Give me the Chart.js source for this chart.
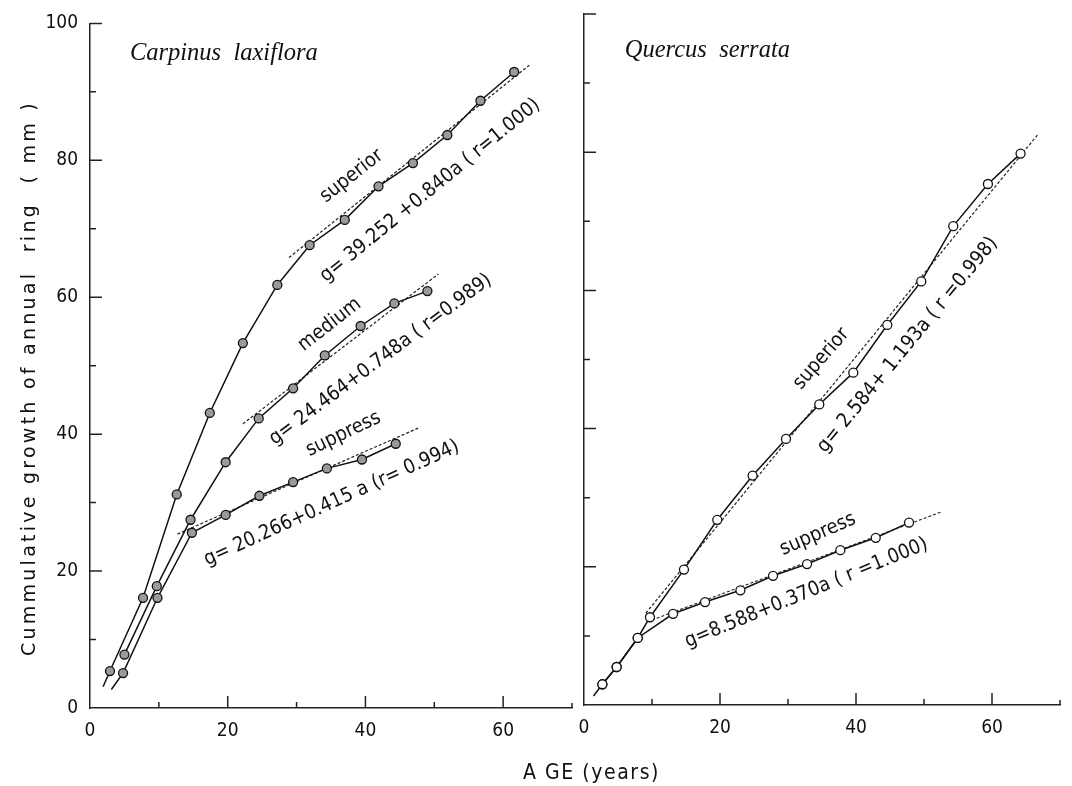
<!DOCTYPE html>
<html>
<head>
<meta charset="utf-8">
<script src="https://cdn.jsdelivr.net/npm/chart.js@4.4.0/dist/chart.umd.min.js"></script>
<style>
html, body { margin: 0; padding: 0; background: #fff; }
#wrap { position: relative; width: 1072px; height: 786px; }
#wrap canvas { position: absolute; left: 0; top: 0; }
</style>
</head>
<body>
<div id="wrap">
  <canvas id="carpinusChart" width="1072" height="786"></canvas>
  <canvas id="quercusChart" width="1072" height="786"></canvas>
</div>
<script>
// Carpinus laxiflora (left panel); first entry of a line flagged with a start is the unmarked tail
var carpSuperiorAge = [1.9, 2.9, 7.7, 12.6, 17.4, 22.2, 27.2, 31.9, 37.0, 41.9, 46.9, 51.9, 56.7, 61.6];
var carpSuperiorG   = [3.1, 5.4, 16.1, 31.2, 43.1, 53.3, 61.8, 67.6, 71.3, 76.2, 79.6, 83.7, 88.7, 92.9];
var carpMediumAge = [5.0, 9.7, 14.6, 19.7, 24.5, 29.5, 34.1, 39.3, 44.2, 49.0];
var carpMediumG   = [7.8, 17.8, 27.5, 35.9, 42.3, 46.7, 51.5, 55.8, 59.1, 60.9];
var carpSuppressAge = [3.1, 4.8, 9.8, 14.8, 19.7, 24.6, 29.5, 34.4, 39.5, 44.4];
var carpSuppressG   = [2.7, 5.1, 16.1, 25.6, 28.2, 31.0, 33.0, 35.0, 36.3, 38.6];
// regression lines (end points)
var carpSuperiorFitAge = [28.9, 63.8], carpSuperiorFitG = [65.8, 93.9];
var carpMediumFitAge = [22.2, 50.6], carpMediumFitG = [41.5, 63.4];
var carpSuppressFitAge = [12.7, 47.7], carpSuppressFitG = [25.4, 40.9];

// Quercus serrata (right panel)
var querSuperiorAge = [1.4, 2.7, 4.8, 7.9, 9.7, 14.7, 19.6, 24.8, 29.7, 34.6, 39.6, 44.6, 49.6, 54.3, 59.4, 64.2];
var querSuperiorG   = [1.3, 3.0, 5.5, 9.7, 12.7, 19.6, 26.8, 33.2, 38.5, 43.5, 48.1, 55.0, 61.3, 69.3, 75.4, 79.8];
var querSuppressAge = [2.7, 4.8, 7.9, 13.1, 17.8, 23.0, 27.8, 32.8, 37.7, 42.9, 47.8];
var querSuppressG   = [3.0, 5.5, 9.7, 13.2, 14.9, 16.6, 18.7, 20.4, 22.4, 24.2, 26.4];
var querSuperiorFitAge = [9.1, 66.7], querSuperiorFitG = [13.3, 82.5];
var querSuppressFitAge = [10.0, 52.7], querSuppressFitG = [12.3, 28.0];

var xTicksShown = [0, 20, 40, 60];
var yTicksShown = [0, 20, 40, 60, 80, 100];

var condensed = "'DejaVu Sans Condensed', 'Liberation Sans Narrow', 'DejaVu Sans', sans-serif";

function pairs(ages, values) {
    return ages.map(function (a, i) { return {x: a, y: values[i]}; });
}

function curve(ages, values, fill, hasStart) {
    return {
        data: pairs(ages, values),
        borderColor: '#111',
        borderWidth: 1.5,
        pointBackgroundColor: fill,
        pointBorderColor: '#111',
        pointBorderWidth: 1.3,
        pointRadius: function (c) { return (hasStart && c.dataIndex === 0) ? 0 : 4.5; },
        showLine: true,
        tension: 0
    };
}

function fitLine(ages, values) {
    return {
        data: pairs(ages, values),
        borderColor: '#222',
        borderWidth: 1.2,
        borderDash: [3, 2],
        pointRadius: 0,
        showLine: true
    };
}

var inwardTicks = {
    id: 'inwardTicks',
    afterDraw: function (chart) {
        var ctx = chart.ctx, area = chart.chartArea;
        var xs = chart.scales.x, ys = chart.scales.y;
        ctx.save();
        ctx.strokeStyle = '#222';
        ctx.lineWidth = 1.5;
        ctx.beginPath();
        xs.ticks.forEach(function (t) {
            if (t.value === xs.min) return;
            var len = t.value % 20 === 0 ? 12 : 6;
            if (t.value === xs.max) len = 5;
            var px = xs.getPixelForValue(t.value);
            ctx.moveTo(px, area.bottom);
            ctx.lineTo(px, area.bottom - len);
        });
        ys.ticks.forEach(function (t) {
            if (t.value === ys.min) return;
            var len = t.value % 20 === 0 ? 12 : 6;
            var py = ys.getPixelForValue(t.value);
            ctx.moveTo(area.left, py);
            ctx.lineTo(area.left + len, py);
        });
        ctx.stroke();
        ctx.restore();
    }
};

var notesPlugin = {
    id: 'notes',
    afterDraw: function (chart, args, opts) {
        var ctx = chart.ctx, xs = chart.scales.x, ys = chart.scales.y;
        (opts.items || []).forEach(function (n) {
            ctx.save();
            ctx.translate(xs.getPixelForValue(n.x), ys.getPixelForValue(n.y));
            ctx.rotate(n.angle * Math.PI / 180);
            ctx.font = n.font;
            ctx.fillStyle = '#111';
            ctx.textAlign = n.align || 'center';
            ctx.textBaseline = n.baseline || 'middle';
            ctx.fillText(n.text, 0, 0);
            ctx.restore();
        });
        (opts.fixed || []).forEach(function (n) {
            ctx.save();
            ctx.translate(n.px, n.py);
            ctx.rotate((n.angle || 0) * Math.PI / 180);
            ctx.font = n.font;
            ctx.fillStyle = '#111';
            ctx.textAlign = n.align || 'center';
            ctx.textBaseline = 'middle';
            if (n.length) {
                // spread the letters so the title spans the same length as in the scan
                var w = ctx.measureText(n.text).width;
                ctx.letterSpacing = Math.max(0, (n.length - w) / n.text.length) + 'px';
            }
            ctx.fillText(n.text, 0, 0);
            ctx.restore();
        });
    }
};

function axes(showY, yWidth) {
    return {
        x: {
            type: 'linear', min: 0, max: 70,
            grid: {display: false, drawTicks: false},
            border: {display: true, color: '#222', width: 1.5},
            ticks: {
                stepSize: 10, autoSkip: false, maxRotation: 0, padding: 12,
                color: '#111', font: {family: condensed, size: 19},
                callback: function (v) { return xTicksShown.indexOf(v) >= 0 ? String(v) : ''; }
            },
            afterFit: function (s) { s.height = 40; }
        },
        y: {
            type: 'linear', min: 0, max: 100,
            grid: {display: false, drawTicks: false},
            border: {display: true, color: '#222', width: 1.5},
            ticks: {
                display: showY, stepSize: 10, autoSkip: false, padding: 12,
                color: '#111', font: {family: condensed, size: 19},
                callback: function (v) { return yTicksShown.indexOf(v) >= 0 ? String(v) : ''; }
            },
            afterFit: function (s) { s.width = yWidth; }
        }
    };
}

var labelFont = "20px " + condensed;
var speciesFont = "italic 24.5px 'Liberation Serif', 'DejaVu Serif', serif";

var carpConfig = {
    type: 'scatter',
    data: {
        datasets: [
            curve(carpSuperiorAge, carpSuperiorG, '#9a9a9a', true),
            curve(carpMediumAge, carpMediumG, '#9a9a9a', false),
            curve(carpSuppressAge, carpSuppressG, '#9a9a9a', true),
            fitLine(carpSuperiorFitAge, carpSuperiorFitG),
            fitLine(carpMediumFitAge, carpMediumFitG),
            fitLine(carpSuppressFitAge, carpSuppressFitG)
        ]
    },
    options: {
        responsive: false,
        animation: false,
        devicePixelRatio: 1,
        layout: {padding: {left: 0, right: 500, top: 18, bottom: 38}},
        scales: axes(true, 90),
        plugins: {
            legend: {display: false},
            tooltip: {enabled: false},
            notes: {
                items: [
                    {text: 'Carpinus  laxiflora', x: 5.8, y: 94.6, angle: 0, font: speciesFont, align: 'left', baseline: 'alphabetic'},
                    {text: 'superior', x: 38.0, y: 77.7, angle: -38, font: labelFont},
                    {text: 'g= 39.252 +0.840a ( r=1.000)', x: 49.4, y: 75.6, angle: -39.3, font: labelFont},
                    {text: 'medium', x: 34.8, y: 56.0, angle: -38, font: labelFont},
                    {text: 'g= 24.464+0.748a ( r=0.989)', x: 42.2, y: 50.9, angle: -36.8, font: labelFont},
                    {text: 'suppress', x: 36.8, y: 40.0, angle: -25.7, font: labelFont},
                    {text: 'g= 20.266+0.415 a (r= 0.994)', x: 35.1, y: 29.9, angle: -24.4, font: labelFont}
                ],
                fixed: [
                    {text: 'Cummulative growth of annual  ring  ( mm )', px: 30, py: 378, angle: -90, length: 556,
                     font: "19px 'DejaVu Sans', 'Liberation Sans', sans-serif"}
                ]
            }
        }
    },
    plugins: [inwardTicks, notesPlugin]
};

var querConfig = {
    type: 'scatter',
    data: {
        datasets: [
            curve(querSuperiorAge, querSuperiorG, '#fff', true),
            curve(querSuppressAge, querSuppressG, '#fff', false),
            fitLine(querSuperiorFitAge, querSuperiorFitG),
            fitLine(querSuppressFitAge, querSuppressFitG)
        ]
    },
    options: {
        responsive: false,
        animation: false,
        devicePixelRatio: 1,
        layout: {padding: {left: 584, right: 7, top: 14, bottom: 41}},
        scales: axes(false, 0),
        plugins: {
            legend: {display: false},
            tooltip: {enabled: false},
            notes: {
                items: [
                    {text: 'Quercus  serrata', x: 6.0, y: 93.8, angle: 0, font: speciesFont, align: 'left', baseline: 'alphabetic'},
                    {text: 'superior', x: 34.9, y: 50.1, angle: -49, font: labelFont},
                    {text: 'g= 2.584+ 1.193a ( r =0.998)', x: 47.6, y: 52.1, angle: -50.6, font: labelFont},
                    {text: 'suppress', x: 34.4, y: 24.7, angle: -23.5, font: labelFont},
                    {text: 'g=8.588+0.370a ( r =1.000)', x: 32.7, y: 16.2, angle: -22.3, font: labelFont}
                ],
                fixed: [
                    {text: 'A GE (years)', px: 523, py: 774, align: 'left', length: 137, font: "21px " + condensed}
                ]
            }
        }
    },
    plugins: [inwardTicks, notesPlugin]
};

var carpChart = new Chart(document.getElementById('carpinusChart'), carpConfig);
var querChart = new Chart(document.getElementById('quercusChart'), querConfig);
</script>
</body>
</html>
